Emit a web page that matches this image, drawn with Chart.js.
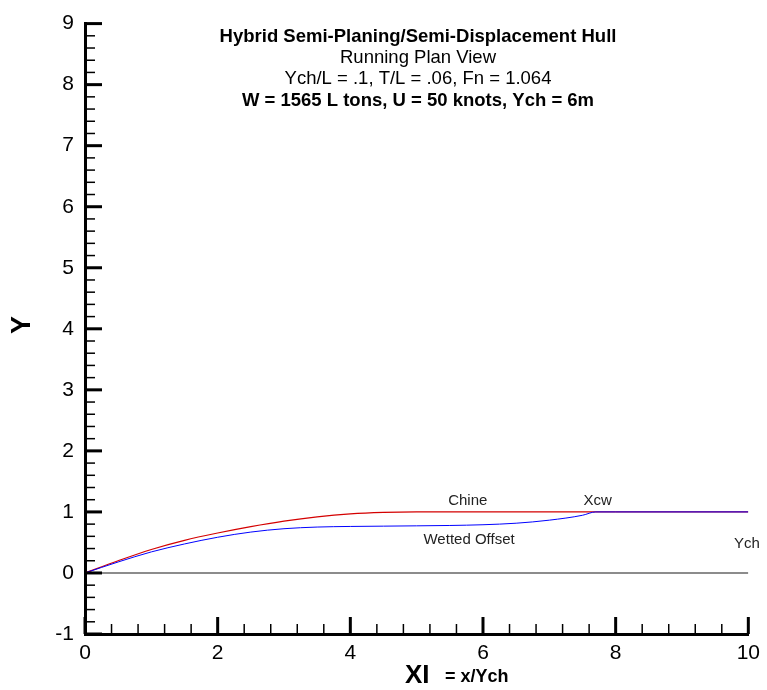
<!DOCTYPE html>
<html>
<head>
<meta charset="utf-8">
<script src="https://cdn.jsdelivr.net/npm/chart.js@4"></script>
<style>
  html, body { margin: 0; padding: 0; background: #fff; }
</style>
</head>
<body>
<canvas id="hullChart" width="767" height="690"></canvas>
<script>
// running plan view, chine and wetted offset vs. x/Ych
const chineX = [0, 0.5, 1, 1.5, 2, 2.5, 3, 3.5, 4, 4.5, 5, 6, 7, 7.7, 8, 9, 10];
const chineY = [0, 0.2, 0.385, 0.535, 0.655, 0.76, 0.85, 0.92, 0.968, 0.992, 1.0, 1.0, 1.0, 1.0, 1.0, 1.0, 1.0];

const wettedX = [0, 0.5, 1, 1.5, 2, 2.5, 3, 3.5, 4, 4.5, 5, 5.5, 6, 6.5, 7, 7.5, 7.7, 8, 9, 10];
const wettedY = [0, 0.18, 0.345, 0.475, 0.585, 0.67, 0.725, 0.752, 0.762, 0.767, 0.772, 0.778, 0.79, 0.815, 0.865, 0.945, 1.0, 1.0, 1.0, 1.0];

const baseX = [0, 10];
const baseY = [0, 0];

const xTicks = [0, 2, 4, 6, 8, 10];
const yTicks = [-1, 0, 1, 2, 3, 4, 5, 6, 7, 8, 9];

const titleLines = [
    'Hybrid Semi-Planing/Semi-Displacement Hull',
    'Running Plan View',
    'Ych/L = .1, T/L = .06, Fn = 1.064',
    'W = 1565 L tons, U = 50 knots, Ych = 6m'
];

const noteText = ['Chine', 'Xcw', 'Wetted Offset', 'Ych'];
const noteX = [5.77, 7.73, 5.79, 9.98];
const noteY = [1.12, 1.12, 0.47, 0.405];

function toPoints(xs, ys) {
    return xs.map((x, i) => ({ x: x, y: ys[i] }));
}

const FONT = 'Arial, "Liberation Sans", sans-serif';

// inward tick marks, titles and labels
const hullDecor = {
    id: 'hullDecor',
    afterDraw(chart) {
        const ctx = chart.ctx;
        const xs = chart.scales.x;
        const ys = chart.scales.y;
        const area = chart.chartArea;
        ctx.save();
        ctx.strokeStyle = '#000';

        for (let i = 0; i <= 25; i++) {
            const px = xs.getPixelForValue(i * 0.4);
            const major = i % 5 === 0;
            ctx.lineWidth = major ? 3 : 1.5;
            ctx.beginPath();
            ctx.moveTo(px, area.bottom);
            ctx.lineTo(px, area.bottom - (major ? 17 : 10));
            ctx.stroke();
        }
        for (let i = 0; i <= 50; i++) {
            const py = ys.getPixelForValue(-1 + i * 0.2);
            const major = i % 5 === 0;
            ctx.lineWidth = major ? 3 : 1.5;
            ctx.beginPath();
            ctx.moveTo(area.left, py);
            ctx.lineTo(area.left + (major ? 17 : 10), py);
            ctx.stroke();
        }

        ctx.fillStyle = '#000';
        ctx.textAlign = 'center';
        ctx.textBaseline = 'alphabetic';
        const lineY = [42, 63, 84, 106];
        titleLines.forEach((t, i) => {
            const bold = i === 0 || i === 3;
            ctx.font = (bold ? 'bold ' : '') + '18.5px ' + FONT;
            ctx.fillText(t, 418, lineY[i]);
        });

        ctx.fillStyle = '#222';
        ctx.font = '15px ' + FONT;
        noteText.forEach((t, i) => {
            ctx.fillText(t, xs.getPixelForValue(noteX[i]), ys.getPixelForValue(noteY[i]));
        });

        // axis titles
        ctx.fillStyle = '#000';
        ctx.textAlign = 'left';
        ctx.font = 'bold 26px ' + FONT;
        ctx.fillText('XI', 405, 683);
        ctx.font = 'bold 18px ' + FONT;
        ctx.fillText('= x/Ych', 445, 682);

        ctx.save();
        ctx.translate(23, 325);
        ctx.rotate(-Math.PI / 2);
        ctx.textAlign = 'center';
        ctx.textBaseline = 'middle';
        ctx.font = 'bold 27px ' + FONT;
        ctx.fillText('Y', 0, 0);
        ctx.restore();

        ctx.restore();
    }
};

const ctx = document.getElementById('hullChart').getContext('2d');

const config = {
    type: 'scatter',
    data: {
        datasets: [
            {
                label: 'Y = 0',
                data: toPoints(baseX, baseY),
                showLine: true,
                borderColor: '#666',
                borderWidth: 1.5,
                pointRadius: 0
            },
            {
                label: 'Wetted Offset',
                data: toPoints(wettedX, wettedY),
                showLine: true,
                borderColor: '#0000ff',
                borderWidth: 1,
                pointRadius: 0,
                cubicInterpolationMode: 'monotone'
            },
            {
                label: 'Chine',
                data: toPoints(chineX, chineY),
                showLine: true,
                borderColor: '#d40000',
                borderWidth: 1.2,
                pointRadius: 0,
                cubicInterpolationMode: 'monotone'
            }
        ]
    },
    options: {
        responsive: false,
        animation: false,
        events: [],
        layout: { padding: { left: 0, right: 16, top: 17, bottom: 0 } },
        plugins: {
            legend: { display: false },
            tooltip: { enabled: false },
            title: { display: false }
        },
        scales: {
            x: {
                type: 'linear',
                min: 0,
                max: 10,
                afterBuildTicks: (scale) => { scale.ticks = xTicks.map(v => ({ value: v })); },
                afterFit: (scale) => { scale.height = 56; },
                grid: { display: false, drawTicks: false },
                border: { display: true, color: '#000', width: 3 },
                ticks: {
                    color: '#000',
                    padding: 7,
                    maxRotation: 0,
                    font: { family: FONT, size: 21 }
                }
            },
            y: {
                type: 'linear',
                min: -1,
                max: 9,
                afterBuildTicks: (scale) => { scale.ticks = yTicks.map(v => ({ value: v })); },
                afterFit: (scale) => { scale.width = 85; },
                grid: { display: false, drawTicks: false },
                border: { display: true, color: '#000', width: 3 },
                ticks: {
                    color: '#000',
                    padding: 11,
                    font: { family: FONT, size: 21 }
                }
            }
        }
    },
    plugins: [hullDecor]
};

const hullChart = new Chart(ctx, config);
</script>
</body>
</html>
